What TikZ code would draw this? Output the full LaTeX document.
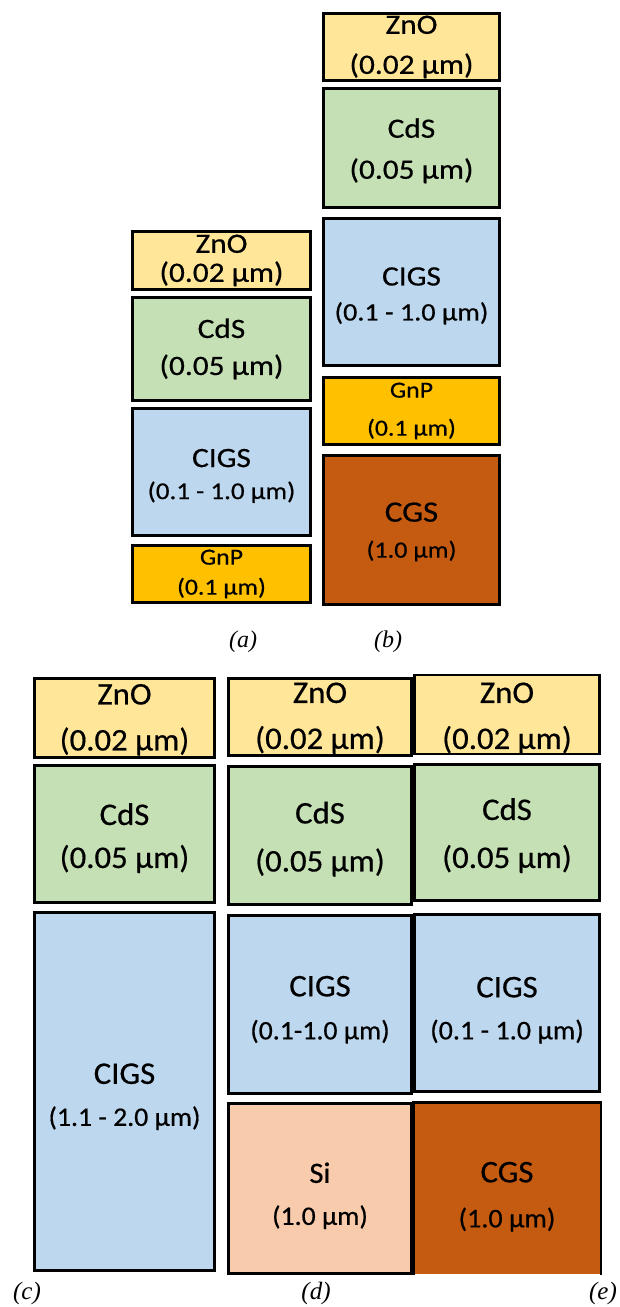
\documentclass[tikz,border=0pt]{standalone}
\usepackage{fontspec}
\setmainfont{Liberation Serif}
\newfontfamily\topsans[FakeStretch=1.12, FakeBold=0.5]{Carlito}
\newfontfamily\botsans[FakeStretch=1.04, FakeBold=0.5]{Carlito}
\newfontfamily\capfont{Liberation Serif}

% layer colours
\definecolor{znoC}{HTML}{FFE699}
\definecolor{cdsC}{HTML}{C5E0B4}
\definecolor{cigsC}{HTML}{BDD7EE}
\definecolor{gnpC}{HTML}{FFC000}
\definecolor{cgsC}{HTML}{C55A11}
\definecolor{siC}{HTML}{F8CBAD}

\tikzset{
  layer/.style={draw=black, line width=2.6pt, inner sep=0pt, align=center, text=black},
  zno/.style={layer, fill=znoC},
  cds/.style={layer, fill=cdsC},
  cigs/.style={layer, fill=cigsC},
  gnp/.style={layer, fill=gnpC},
  cgs/.style={layer, fill=cgsC},
  si/.style={layer, fill=siC},
  dims/.style 2 args={minimum width=#1pt, minimum height=#2pt},
  topf/.style 2 args={font=\topsans\fontsize{#1}{#2}\selectfont},
  botf/.style 2 args={font=\botsans\fontsize{#1}{#2}\selectfont},
  caption/.style={font=\capfont\itshape\fontsize{#1}{#1}\selectfont, inner sep=0pt},
}
% smaller second line, and a strut that lowers a label block
\newcommand\sz[1]{\fontsize{#1}{\baselineskip}\selectfont}
\newcommand\lowr[1]{\rule{0pt}{#1pt}}

\begin{document}
\begin{tikzpicture}[x=1pt, y=-1pt]
\useasboundingbox (0,0) rectangle (619,1307);

% ---- stack (a)
\node[zno, dims={178}{58}, topf={28}{29}] (aZnO) at (221.5,260.5) {ZnO\\(0.02 µm)};
\node[cds, dims={178}{103}, topf={28}{37}] (aCdS) at (221.5,349) {CdS\\(0.05 µm)};
\node[cigs, dims={178}{127}, topf={28}{32}] (aCIGS) at (221.5,472) {\lowr{26}CIGS\\{\sz{24.1}(0.1 - 1.0 µm)}};
\node[gnp, dims={178}{57}, topf={23}{30}] (aGnP) at (221.5,574) {GnP\\(0.1 µm)};

% ---- stack (b)
\node[zno, dims={176}{67}, topf={28}{40}] (bZnO) at (411.5,47) {ZnO\\(0.02 µm)};
\node[cds, dims={176}{119}, topf={28}{41}] (bCdS) at (411.5,148) {\lowr{25}CdS\\(0.05 µm)};
\node[cigs, dims={176}{147}, topf={28}{35}] (bCIGS) at (411.5,292) {\lowr{26}CIGS\\{\sz{25.1}(0.1 - 1.0 µm)}};
\node[gnp, dims={176}{67}, topf={23}{38}] (bGnP) at (411.5,411) {GnP\\(0.1 µm)};
\node[cgs, dims={176}{149}, topf={29.5}{36}] (bCGS) at (411.5,530) {\lowr{23}CGS\\{\sz{23.3}(1.0 µm)}};

\node[caption=24] (capA) at (243,642) {(a)};
\node[caption=24] (capB) at (388,642) {(b)};

% ---- stack (c)
\node[zno, dims={180}{79}, botf={31.5}{46}] (cZnO) at (124.5,718) {\lowr{24}ZnO\\(0.02 µm)};
\node[cds, dims={180}{137}, botf={31.5}{43}] (cCdS) at (124.5,834) {\lowr{30}CdS\\(0.05 µm)};
\node[cigs, dims={180}{358}, botf={31.5}{42}] (cCIGS) at (124.5,1091.5) {\lowr{31}CIGS\\{\sz{26.7}(1.1 - 2.0 µm)}};

% ---- stack (d)
\node[zno, dims={183}{77}, botf={31.5}{46}] (dZnO) at (320,717) {\lowr{23}ZnO\\(0.02 µm)};
\node[cds, dims={183}{138}, botf={31.5}{48}] (dCdS) at (320,835.5) {\lowr{29}CdS\\(0.05 µm)};
\node[cigs, dims={183}{178}, botf={31.5}{43}] (dCIGS) at (320,1004.5) {\lowr{31}CIGS\\{\sz{26.7}(0.1-1.0 µm)}};
\node[si, dims={183}{170}, botf={29.5}{42}] (dSi) at (320,1188.5) {\lowr{35}Si\\{\sz{26.7}(1.0 µm)}};

% ---- stack (e)
\node[zno, dims={185}{78}, botf={31.5}{46}] (eZnO) at (507,714.5) {\lowr{28}ZnO\\(0.02 µm)};
\node[cds, dims={185}{136}, botf={31.5}{48}] (eCdS) at (507,832.5) {\lowr{28}CdS\\(0.05 µm)};
\node[cigs, dims={185}{177}, botf={31.5}{42}] (eCIGS) at (507,1003) {\lowr{35}CIGS\\{\sz{27}(0.1 - 1.0 µm)}};
\node[cgs, draw=none, dims={185}{170}, botf={31.5}{45}] (eCGS) at (507,1188.5) {\lowr{37}CGS\\{\sz{27}(1.0 µm)}};
\draw[line width=2.6pt] (eCGS.south west) -- (eCGS.north west) -- (eCGS.north east) -- (eCGS.south east);

\node[caption=25] (capC) at (27,1293) {(c)};
\node[caption=25] (capD) at (316,1293) {(d)};
\node[caption=25] (capE) at (603,1293) {(e)};
\end{tikzpicture}
\end{document}
